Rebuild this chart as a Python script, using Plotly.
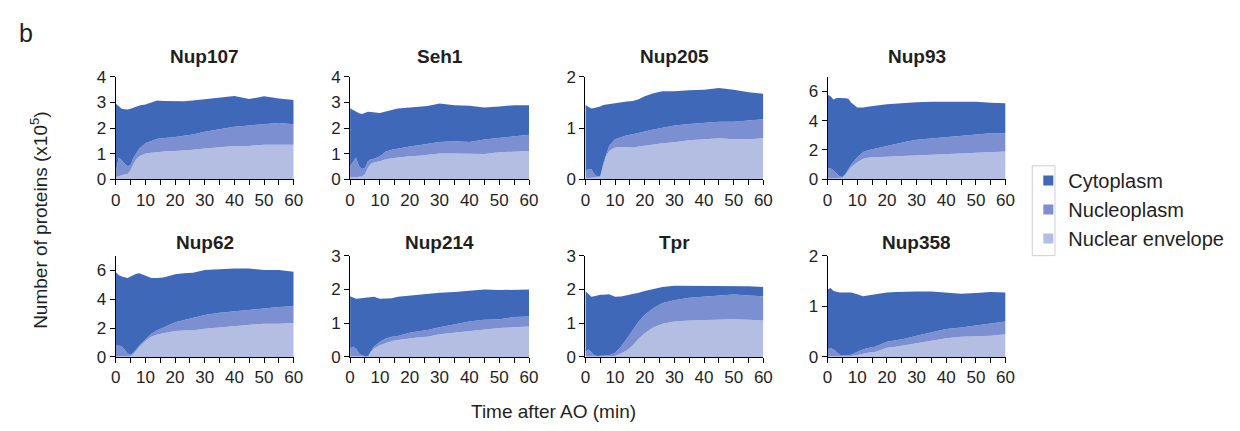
import plotly.graph_objects as go

# ---------------- data (values x10^5) ----------------
T = [0, 1, 2, 3, 4, 5, 6, 7, 8, 10, 12, 14, 16, 18, 20, 23, 26, 30, 35, 40, 45, 50, 55, 60]

panel_names = ["Nup107", "Seh1", "Nup205", "Nup93", "Nup62", "Nup214", "Tpr", "Nup358"]
y_max = [4, 4, 2, 7, 7, 3, 3, 2]
y_step = [1, 1, 1, 2, 2, 1, 1, 1]

# cumulative boundaries: total (top), nuclear envelope + nucleoplasm (mid), nuclear envelope (bottom)
nup107_total = [2.96, 2.85, 2.75, 2.73, 2.72, 2.75, 2.8, 2.86, 2.88, 2.92, 3.0, 3.08, 3.06, 3.05, 3.04, 3.05, 3.08, 3.13, 3.2, 3.25, 3.13, 3.24, 3.15, 3.1]
nup107_mid = [0.25, 0.85, 0.75, 0.6, 0.5, 0.55, 0.85, 1.05, 1.2, 1.4, 1.5, 1.58, 1.6, 1.62, 1.65, 1.7, 1.75, 1.85, 1.95, 2.05, 2.1, 2.15, 2.2, 2.15]
nup107_ne = [0.08, 0.12, 0.15, 0.18, 0.2, 0.35, 0.6, 0.8, 0.9, 1.0, 1.03, 1.06, 1.08, 1.1, 1.1, 1.12, 1.15, 1.2, 1.25, 1.3, 1.3, 1.35, 1.35, 1.35]

seh1_total = [2.77, 2.7, 2.62, 2.58, 2.55, 2.6, 2.64, 2.63, 2.62, 2.59, 2.65, 2.72, 2.76, 2.78, 2.8, 2.83, 2.86, 2.96, 2.89, 2.87, 2.8, 2.84, 2.89, 2.89]
seh1_mid = [0.5, 0.7, 0.85, 0.5, 0.4, 0.45, 0.7, 0.78, 0.8, 0.9, 1.08, 1.15, 1.2, 1.24, 1.28, 1.33, 1.38, 1.45, 1.48, 1.45, 1.55, 1.62, 1.68, 1.74]
seh1_ne = [0.05, 0.06, 0.08, 0.09, 0.1, 0.2, 0.45, 0.6, 0.65, 0.7, 0.78, 0.82, 0.85, 0.87, 0.9, 0.92, 0.95, 1.0, 1.0, 1.0, 0.98, 1.05, 1.08, 1.1]

nup205_total = [1.45, 1.42, 1.38, 1.39, 1.4, 1.42, 1.45, 1.46, 1.46, 1.48, 1.5, 1.52, 1.53, 1.56, 1.62, 1.68, 1.72, 1.72, 1.74, 1.75, 1.78, 1.75, 1.7, 1.67]
nup205_mid = [0.15, 0.2, 0.2, 0.1, 0.05, 0.05, 0.3, 0.5, 0.65, 0.78, 0.82, 0.86, 0.88, 0.9, 0.93, 0.97, 1.0, 1.05, 1.08, 1.1, 1.12, 1.12, 1.15, 1.17]
nup205_ne = [0.02, 0.02, 0.02, 0.03, 0.04, 0.05, 0.25, 0.45, 0.55, 0.62, 0.63, 0.62, 0.62, 0.64, 0.66, 0.68, 0.7, 0.72, 0.76, 0.78, 0.8, 0.78, 0.78, 0.8]

nup93_total = [5.78, 5.67, 5.45, 5.56, 5.56, 5.56, 5.53, 5.5, 5.23, 4.9, 4.9, 4.98, 5.05, 5.08, 5.12, 5.18, 5.23, 5.27, 5.3, 5.3, 5.3, 5.3, 5.23, 5.19]
nup93_mid = [0.72, 0.75, 0.6, 0.4, 0.2, 0.15, 0.35, 0.7, 1.0, 1.5, 1.85, 2.0, 2.1, 2.2, 2.3, 2.45, 2.55, 2.7, 2.8, 2.9, 3.0, 3.1, 3.15, 3.15]
nup93_ne = [0.05, 0.05, 0.05, 0.05, 0.05, 0.1, 0.3, 0.6, 0.85, 1.15, 1.4, 1.48, 1.5, 1.5, 1.5, 1.52, 1.55, 1.6, 1.65, 1.7, 1.75, 1.8, 1.85, 1.9]

nup62_total = [5.85, 5.67, 5.56, 5.5, 5.45, 5.55, 5.67, 5.75, 5.78, 5.6, 5.45, 5.45, 5.49, 5.6, 5.71, 5.78, 5.82, 6.0, 6.07, 6.11, 6.11, 6.0, 6.0, 5.89]
nup62_mid = [0.8, 0.8, 0.75, 0.5, 0.25, 0.15, 0.3, 0.55, 0.8, 1.2, 1.6, 1.85, 2.0, 2.2, 2.4, 2.55, 2.65, 2.9, 3.05, 3.15, 3.3, 3.4, 3.45, 3.5]
nup62_ne = [0.05, 0.05, 0.05, 0.05, 0.05, 0.05, 0.2, 0.45, 0.7, 1.1, 1.4, 1.55, 1.65, 1.75, 1.8, 1.83, 1.85, 1.95, 2.05, 2.15, 2.25, 2.3, 2.3, 2.35]

nup214_total = [1.8, 1.75, 1.72, 1.73, 1.74, 1.75, 1.76, 1.77, 1.78, 1.72, 1.72, 1.74, 1.78, 1.8, 1.82, 1.85, 1.87, 1.9, 1.92, 1.97, 2.0, 1.98, 2.0, 2.0]
nup214_mid = [0.25, 0.3, 0.25, 0.1, 0.05, 0.02, 0.03, 0.15, 0.3, 0.45, 0.55, 0.6, 0.62, 0.67, 0.72, 0.76, 0.8, 0.88, 0.97, 1.05, 1.1, 1.12, 1.18, 1.2]
nup214_ne = [0.02, 0.02, 0.02, 0.02, 0.02, 0.02, 0.05, 0.15, 0.25, 0.35, 0.42, 0.47, 0.5, 0.53, 0.55, 0.58, 0.6, 0.67, 0.72, 0.78, 0.83, 0.86, 0.88, 0.9]

tpr_total = [1.95, 1.85, 1.78, 1.8, 1.83, 1.84, 1.84, 1.85, 1.86, 1.78, 1.79, 1.83, 1.86, 1.9, 1.95, 2.02, 2.07, 2.11, 2.11, 2.11, 2.11, 2.09, 2.09, 2.07]
tpr_mid = [0.15, 0.22, 0.15, 0.05, 0.03, 0.03, 0.03, 0.04, 0.05, 0.12, 0.3, 0.55, 0.8, 1.05, 1.25, 1.45, 1.6, 1.68, 1.75, 1.78, 1.82, 1.85, 1.82, 1.8]
tpr_ne = [0.02, 0.02, 0.02, 0.02, 0.02, 0.02, 0.02, 0.02, 0.02, 0.03, 0.1, 0.2, 0.35, 0.55, 0.7, 0.88, 0.98, 1.05, 1.08, 1.1, 1.1, 1.12, 1.1, 1.08]

nup358_total = [1.33, 1.36, 1.3, 1.28, 1.27, 1.27, 1.27, 1.27, 1.27, 1.24, 1.2, 1.22, 1.24, 1.26, 1.27, 1.28, 1.29, 1.29, 1.29, 1.27, 1.25, 1.26, 1.28, 1.27]
nup358_mid = [0.15, 0.17, 0.15, 0.1, 0.05, 0.03, 0.03, 0.03, 0.05, 0.1, 0.15, 0.18, 0.2, 0.25, 0.3, 0.33, 0.36, 0.42, 0.48, 0.55, 0.58, 0.62, 0.65, 0.7]
nup358_ne = [0.02, 0.02, 0.02, 0.02, 0.02, 0.02, 0.02, 0.02, 0.02, 0.04, 0.07, 0.09, 0.1, 0.14, 0.18, 0.2, 0.23, 0.28, 0.33, 0.37, 0.4, 0.41, 0.42, 0.45]

series_names = ["Cytoplasm", "Nucleoplasm", "Nuclear envelope"]

panels = [
    (nup107_total, nup107_mid, nup107_ne),
    (seh1_total, seh1_mid, seh1_ne),
    (nup205_total, nup205_mid, nup205_ne),
    (nup93_total, nup93_mid, nup93_ne),
    (nup62_total, nup62_mid, nup62_ne),
    (nup214_total, nup214_mid, nup214_ne),
    (tpr_total, tpr_mid, tpr_ne),
    (nup358_total, nup358_mid, nup358_ne),
]

# ---------------- style ----------------
W, H = 1240, 431
C_CYTO = "#3F69B8"
C_NUCP = "#7B8FD1"
C_NE = "#B4BEE2"
FONT = "Liberation Sans, Arial, sans-serif"
TXT = "#1f1f1f"

col_px = [(112, 292), (349, 530), (587, 767), (832, 1012)]
row_px = [(71, 178), (258, 364)]
title_y = [50, 244]


def px(x):
    return x / W


def py(y):
    return 1 - y / H


fig = go.Figure()
layout = {}
annotations = []

for i, (name, (tot, mid, ne)) in enumerate(zip(panel_names, panels)):
    r, c = divmod(i, 4)
    sfx = "" if i == 0 else str(i + 1)
    xa, ya = "x" + sfx, "y" + sfx
    for yy, fill, col in [(ne, "tozeroy", C_NE), (mid, "tonexty", C_NUCP), (tot, "tonexty", C_CYTO)]:
        fig.add_trace(go.Scatter(x=T, y=yy, xaxis=xa, yaxis=ya, mode="lines",
                                 line=dict(width=0, color=col), fill=fill, fillcolor=col,
                                 showlegend=False, hoverinfo="skip"))
    x0, x1 = col_px[c]
    y0, y1 = row_px[r]
    layout["xaxis" + sfx] = dict(
        domain=[px(x0), px(x1)], anchor=ya, range=[0, 60], tick0=0, dtick=10,
        ticks="outside", ticklen=5, tickwidth=1, tickcolor="black",
        showline=True, linecolor="black", linewidth=1, showgrid=False, zeroline=False,
        minor=dict(tick0=0, dtick=5, ticks="outside", ticklen=5, tickwidth=1,
                   tickcolor="black", showgrid=False),
        tickfont=dict(size=17, color=TXT, family=FONT), fixedrange=True)
    layout["yaxis" + sfx] = dict(
        domain=[py(y1), py(y0)], anchor=xa, range=[0, y_max[i]], tick0=0, dtick=y_step[i],
        ticks="outside", ticklen=5, tickwidth=1, tickcolor="black",
        showline=True, linecolor="black", linewidth=1, showgrid=False, zeroline=False,
        tickfont=dict(size=17, color=TXT, family=FONT), fixedrange=True)
    annotations.append(dict(text="<b>" + name + "</b>", xref="paper", yref="paper",
                            x=px((x0 + x1) / 2), y=py(title_y[r]), showarrow=False,
                            font=dict(size=19, color=TXT, family=FONT),
                            xanchor="center", yanchor="middle"))

# legend entries
for nm, col in zip(series_names, [C_CYTO, C_NUCP, C_NE]):
    fig.add_trace(go.Scatter(x=[None], y=[None], mode="markers", name=nm,
                             marker=dict(symbol="square", size=10, color=col),
                             showlegend=True, hoverinfo="skip"))

annotations += [
    dict(text="b", xref="paper", yref="paper", x=px(12), y=py(25), showarrow=False,
         font=dict(size=25, color=TXT, family=FONT), xanchor="left", yanchor="middle"),
    dict(text="Number of proteins (x10<sup>5</sup>)", xref="paper", yref="paper",
         x=px(35), y=py(221), showarrow=False, textangle=-90,
         font=dict(size=19, color=TXT, family=FONT), xanchor="center", yanchor="middle"),
    dict(text="Time after AO (min)", xref="paper", yref="paper",
         x=px(555), y=py(421), showarrow=False,
         font=dict(size=19, color=TXT, family=FONT), xanchor="center", yanchor="middle"),
]

fig.update_layout(
    width=W, height=H, margin=dict(l=0, r=0, t=0, b=0),
    paper_bgcolor="white", plot_bgcolor="white",
    font=dict(family=FONT, color=TXT),
    annotations=annotations,
    showlegend=True,
    legend=dict(x=px(1035), y=py(159), xanchor="left", yanchor="top", traceorder="normal",
                font=dict(size=20, color=TXT, family=FONT), bgcolor="rgba(0,0,0,0)",
                borderwidth=0, itemclick=False, itemdoubleclick=False),
    shapes=[dict(type="rect", xref="paper", yref="paper",
                 x0=px(1039), x1=px(1062), y0=py(258), y1=py(164),
                 line=dict(color="#cfcfcf", width=1), fillcolor="rgba(0,0,0,0)")],
    **layout,
)

fig.write_html("out.html", config={"displayModeBar": False},
               post_script="document.body.style.margin='0px';document.body.style.overflow='hidden';")
